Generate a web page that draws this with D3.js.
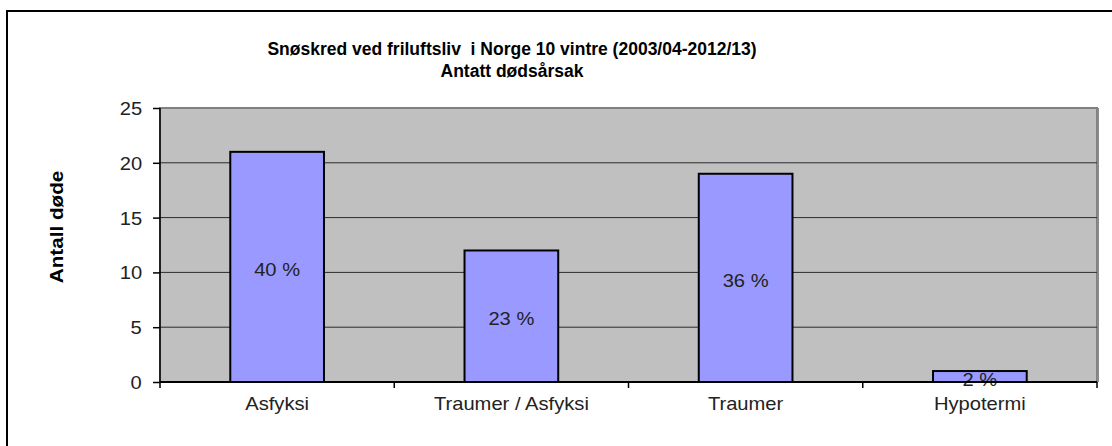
<!DOCTYPE html>
<html>
<head>
<meta charset="UTF-8">
<style>
  body { margin: 0; background: #fff; }
  text { font-family: "Liberation Sans", Arial, sans-serif; }
  .title { font-weight: bold; font-size: 17.5px; fill: #000; }
  .lbl { font-size: 18px; fill: #222; transform-box: fill-box; transform-origin: center; transform: scaleX(1.12); }
</style>
<script src="https://d3js.org/d3.v7.min.js"></script>
</head>
<body>
<script>
var categories = ["Asfyksi", "Traumer / Asfyksi", "Traumer", "Hypotermi"];
var deaths = [21, 12, 19, 1];
var pctLabels = ["40 %", "23 %", "36 %", "2 %"];
var yTicks = [0, 5, 10, 15, 20, 25];

var W = 1112, H = 446;
var plot = {left: 160, top: 108, right: 1097, bottom: 382};

var svg = d3.select("body").append("svg")
    .attr("width", W).attr("height", H);

// outer chart border
svg.append("rect")
    .attr("x", 7).attr("y", 11)
    .attr("width", 1130).attr("height", 470)
    .attr("fill", "#fff").attr("stroke", "#000").attr("stroke-width", 2);

var x = d3.scaleBand().domain(categories)
    .range([plot.left, plot.right]).paddingInner(0.6).paddingOuter(0.3);
var xb = d3.scaleBand().domain(categories).range([plot.left, plot.right]);
var y = d3.scaleLinear().domain([0, 25]).range([plot.bottom, plot.top]);

// plot area
svg.append("rect")
    .attr("x", plot.left).attr("y", plot.top)
    .attr("width", plot.right - plot.left).attr("height", plot.bottom - plot.top)
    .attr("fill", "#c0c0c0").attr("stroke", "#808080").attr("stroke-width", 2);
svg.append("line")
    .attr("x1", plot.right + 1).attr("x2", plot.right + 1)
    .attr("y1", plot.top).attr("y2", plot.bottom)
    .attr("stroke", "#8a8a8a").attr("stroke-width", 2);

// gridlines
svg.selectAll(".grid").data(yTicks.filter(function(d){ return d > 0 && d < 25; }))
  .enter().append("line")
    .attr("x1", plot.left).attr("x2", plot.right)
    .attr("y1", function(d){ return y(d); }).attr("y2", function(d){ return y(d); })
    .attr("stroke", "#2a2a2a").attr("stroke-width", 1);

// bars
svg.selectAll(".bar").data(deaths).enter().append("rect")
    .attr("x", function(d, i){ return x(categories[i]); })
    .attr("y", function(d){ return y(d); })
    .attr("width", x.bandwidth())
    .attr("height", function(d){ return y(0) - y(d); })
    .attr("fill", "#9999ff").attr("stroke", "#000").attr("stroke-width", 2);

// percent labels
svg.selectAll(".pct").data(deaths).enter().append("text")
    .attr("class", "lbl")
    .attr("x", function(d, i){ return x(categories[i]) + x.bandwidth() / 2; })
    .attr("y", function(d){ return y(d / 2); })
    .attr("dy", "0.5em")
    .attr("text-anchor", "middle")
    .text(function(d, i){ return pctLabels[i]; });

// y axis
var yAxis = svg.append("g")
    .attr("transform", "translate(" + plot.left + ",0)")
    .call(d3.axisLeft(y).tickValues(yTicks).tickSize(7).tickPadding(12));
yAxis.selectAll("path, line").attr("stroke", "#000").attr("stroke-width", 1.5);
yAxis.select(".domain").attr("d", "M0," + plot.top + "V" + plot.bottom);
yAxis.selectAll(".tick text").attr("class", "lbl").attr("dy", "0.36em");

// x axis
var xAxis = svg.append("g")
    .attr("transform", "translate(0," + plot.bottom + ")")
    .call(d3.axisBottom(xb).tickSize(0));
xAxis.select(".domain").attr("stroke", "#000").attr("stroke-width", 2)
    .attr("d", "M" + plot.left + ",0H" + plot.right);
xAxis.selectAll(".tick text").attr("class", "lbl").attr("y", 28).attr("dy", 0);
var bounds = categories.map(function(c){ return xb(c); }).concat([plot.right]);
xAxis.selectAll(".xt").data(bounds).enter().append("line")
    .attr("x1", function(d){ return d; }).attr("x2", function(d){ return d; })
    .attr("y1", 0).attr("y2", 6)
    .attr("stroke", "#000").attr("stroke-width", 1.5);

// titles
svg.append("text").attr("class", "title")
    .attr("x", 512).attr("y", 55).attr("text-anchor", "middle")
    .attr("xml:space", "preserve")
    .text("Snøskred ved friluftsliv  i Norge 10 vintre (2003/04-2012/13)");
svg.append("text").attr("class", "title")
    .attr("x", 512).attr("y", 77).attr("text-anchor", "middle")
    .text("Antatt dødsårsak");

svg.append("text").attr("class", "title")
    .attr("transform", "translate(63,227) rotate(-90) scale(1.15,1)")
    .attr("text-anchor", "middle")
    .style("font-size", "18px")
    .text("Antall døde");
</script>
</body>
</html>
